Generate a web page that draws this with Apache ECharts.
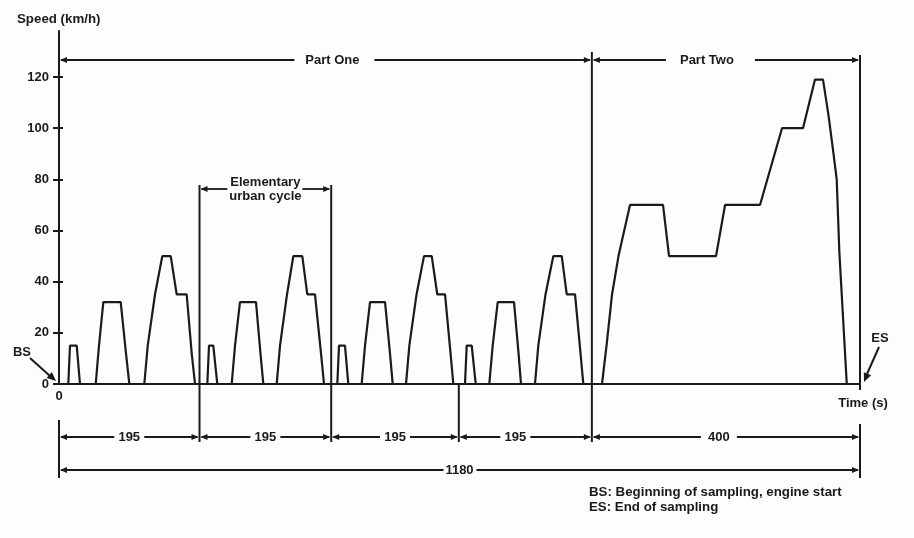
<!DOCTYPE html>
<html>
<head>
<meta charset="utf-8">
<script src="https://cdn.jsdelivr.net/npm/echarts@6/dist/echarts.min.js"></script>
<style>
html,body{margin:0;padding:0;background:#fdfdfd;}
#c{width:914px;height:538px;}
</style>
</head>
<body>
<div id="c"></div>
<script>
// ---- data ----
const timeS = [
  0, 13.7, 16.2, 26.1, 30.9,
  54.1, 58.9, 65.3, 90.9, 98.7, 103.6,
  125.7, 130.7, 141.4, 152.2, 164.6, 173.4, 188.1, 195.5, 200.4,
  218.5, 221, 227.3, 233.2,
  254.4, 259.3, 266.6, 290.2, 296.8, 301,
  320.7, 325.6, 335.9, 345.2, 358.4, 365.8, 377.1, 386, 390.4,
  410, 412.5, 421.3, 426.2,
  445.9, 450.8, 458.2, 480.3, 487.6, 491.6,
  511.2, 516.1, 526.7, 537.7, 549.1, 557.3, 568.7, 576.8, 580.9,
  598.1, 600.6, 608, 613.9,
  633.9, 638.9, 646.3, 670.3, 677, 680.6,
  701.2, 706.1, 716.7, 728.2, 740.6, 748, 760.2, 768.3, 772.4,
  799.9, 806.6, 814.7, 824.2, 841.2, 889.8, 898.7, 967.9, 981.2, 1032.7,
  1065.1, 1096, 1113.7, 1125.5, 1133.6, 1140, 1145.7, 1149.5, 1155, 1160.5, 1180
];
const speedKmh = [
  0, 0, 15, 15, 0,
  0, 15, 32, 32, 12, 0,
  0, 15, 35, 50, 50, 35, 35, 12, 0,
  0, 15, 15, 0,
  0, 15, 32, 32, 12, 0,
  0, 15, 35, 50, 50, 35, 35, 12, 0,
  0, 15, 15, 0,
  0, 15, 32, 32, 12, 0,
  0, 15, 35, 50, 50, 35, 35, 12, 0,
  0, 15, 15, 0,
  0, 15, 32, 32, 12, 0,
  0, 15, 35, 50, 50, 35, 35, 12, 0,
  0, 15, 35, 50, 70, 70, 50, 50, 70, 70,
  100, 100, 119, 119, 105, 92, 80, 52, 26, 0, 0
];
const yTicks = [0, 20, 40, 60, 80, 100, 120];
const xTicks = [0];
const boundsS = [0, 207, 401, 589, 785, 1180];
const spanLabels = ['195', '195', '195', '195', '400'];
const totalLabel = '1180';
const partLabels = ['Part One', 'Part Two'];
const cycleLabel = 'Elementary\nurban cycle';
const yTitle = 'Speed (km/h)';
const xTitle = 'Time (s)';
const noteLines = ['BS: Beginning of sampling, engine start', 'ES: End of sampling'];

// ---- chart ----
const FONT = '"Liberation Sans", Arial, sans-serif';
const INK = '#1a1a1a';
const chart = echarts.init(document.getElementById('c'));
chart.setOption({
  animation: false,
  backgroundColor: '#fdfdfd',
  grid: { left: 59, right: 54, top: 31, bottom: 154 },
  xAxis: {
    type: 'value', min: 0, max: 1180,
    axisLine: { lineStyle: { color: INK, width: 2 } },
    axisTick: { show: false },
    splitLine: { show: false },
    axisLabel: { customValues: xTicks, color: INK, fontWeight: 'bold', fontSize: 13, fontFamily: FONT, margin: 6 }
  },
  yAxis: [{
    type: 'value', min: 0, max: 138,
    axisLine: { show: true, lineStyle: { color: INK, width: 2 } },
    axisTick: { show: true, customValues: yTicks, length: 6, lineStyle: { color: INK, width: 2 } },
    axisLabel: { customValues: yTicks, color: INK, fontWeight: 'bold', fontSize: 13, fontFamily: FONT, margin: 10 },
    splitLine: { show: false }
  }, {
    type: 'value', min: 0, max: 138, position: 'left',
    axisLine: { show: false },
    axisTick: { show: true, inside: true, customValues: yTicks, length: 4, lineStyle: { color: INK, width: 2 } },
    axisLabel: { show: false },
    splitLine: { show: false }
  }],
  series: [{
    type: 'line',
    data: timeS.map((t, i) => [t, speedKmh[i]]),
    showSymbol: false,
    silent: true,
    lineStyle: { color: INK, width: 2.2 }
  }]
});

// ---- annotations ----
const X = t => chart.convertToPixel({ xAxisIndex: 0 }, t);
const Y0 = chart.convertToPixel({ yAxisIndex: 0 }, 0);
const g = [];
function seg(x1, y1, x2, y2, w) {
  g.push({ type: 'line', silent: true, shape: { x1, y1, x2, y2 }, style: { stroke: INK, lineWidth: w || 1.8 } });
}
function head(tx, ty, dx, dy, len, half) {
  len = len || 7; half = half || 3;
  const n = Math.hypot(dx, dy); dx /= n; dy /= n;
  const bx = tx - dx * len, by = ty - dy * len;
  g.push({ type: 'polygon', silent: true,
    shape: { points: [[tx, ty], [bx - dy * half, by + dx * half], [bx + dy * half, by - dx * half]] },
    style: { fill: INK } });
}
function txt(x, y, s, align, size) {
  g.push({ type: 'text', silent: true, x, y,
    style: { text: s, font: 'bold ' + (size || 13) + 'px ' + FONT, fill: INK, align: align || 'center', verticalAlign: 'middle', lineHeight: 14 } });
}
function dim(xa, xb, y, label, cx, gapL, gapR) {
  seg(xa + 2, y, cx - gapL, y);
  seg(cx + gapR, y, xb - 2, y);
  head(xa + 1, y, -1, 0);
  head(xb - 1, y, 1, 0);
  if (label) txt(cx, y, label);
}

const xb = boundsS.map(X);
// vertical boundary lines
seg(xb[1], 185, xb[1], 442, 2);
seg(xb[2], 185, xb[2], 442, 2);
seg(xb[3], Y0, xb[3], 442, 2);
seg(xb[4], 52, xb[4], 442, 2);
seg(xb[5], 55, xb[5], 390, 2);
seg(xb[5], 424, xb[5], 478, 2);
seg(xb[0], 420, xb[0], 478, 2);

// Part One / Part Two
dim(xb[0], xb[4], 60, partLabels[0], (xb[0] + xb[4]) / 2 + 7, 38, 42);
dim(xb[4], xb[5], 60, partLabels[1], (xb[4] + xb[5]) / 2 - 19, 41, 48);
// elementary urban cycle
dim(xb[1], xb[2], 189, '', (xb[1] + xb[2]) / 2, 38, 37);
txt((xb[1] + xb[2]) / 2, 189, cycleLabel, 'center', 13);
// spans
for (let i = 0; i < 5; i++) {
  const cx = (xb[i] + xb[i + 1]) / 2 + (i === 3 ? -10 : (i === 4 ? -7 : 0));
  const gap = i === 4 ? 18 : 15;
  dim(xb[i], xb[i + 1], 437, spanLabels[i], cx, gap, gap);
}
dim(xb[0], xb[5], 470, totalLabel, (xb[0] + xb[5]) / 2, 16, 17);

// titles
txt(17, 19, yTitle, 'left', 13.3);
txt(863, 403, xTitle, 'center', 13);
// BS / ES
txt(22, 352, 'BS', 'center', 13);
seg(30, 358, 50, 376, 2);
head(56, 381, 1, 0.88, 9, 4);
txt(880, 338, 'ES', 'center', 13);
seg(879, 347, 867, 374, 2);
head(864, 382, -0.42, 1, 9, 4);
// notes
txt(589, 492, noteLines[0], 'left', 13.3);
txt(589, 507, noteLines[1], 'left', 13.3);

chart.setOption({ graphic: g });
</script>
</body>
</html>
